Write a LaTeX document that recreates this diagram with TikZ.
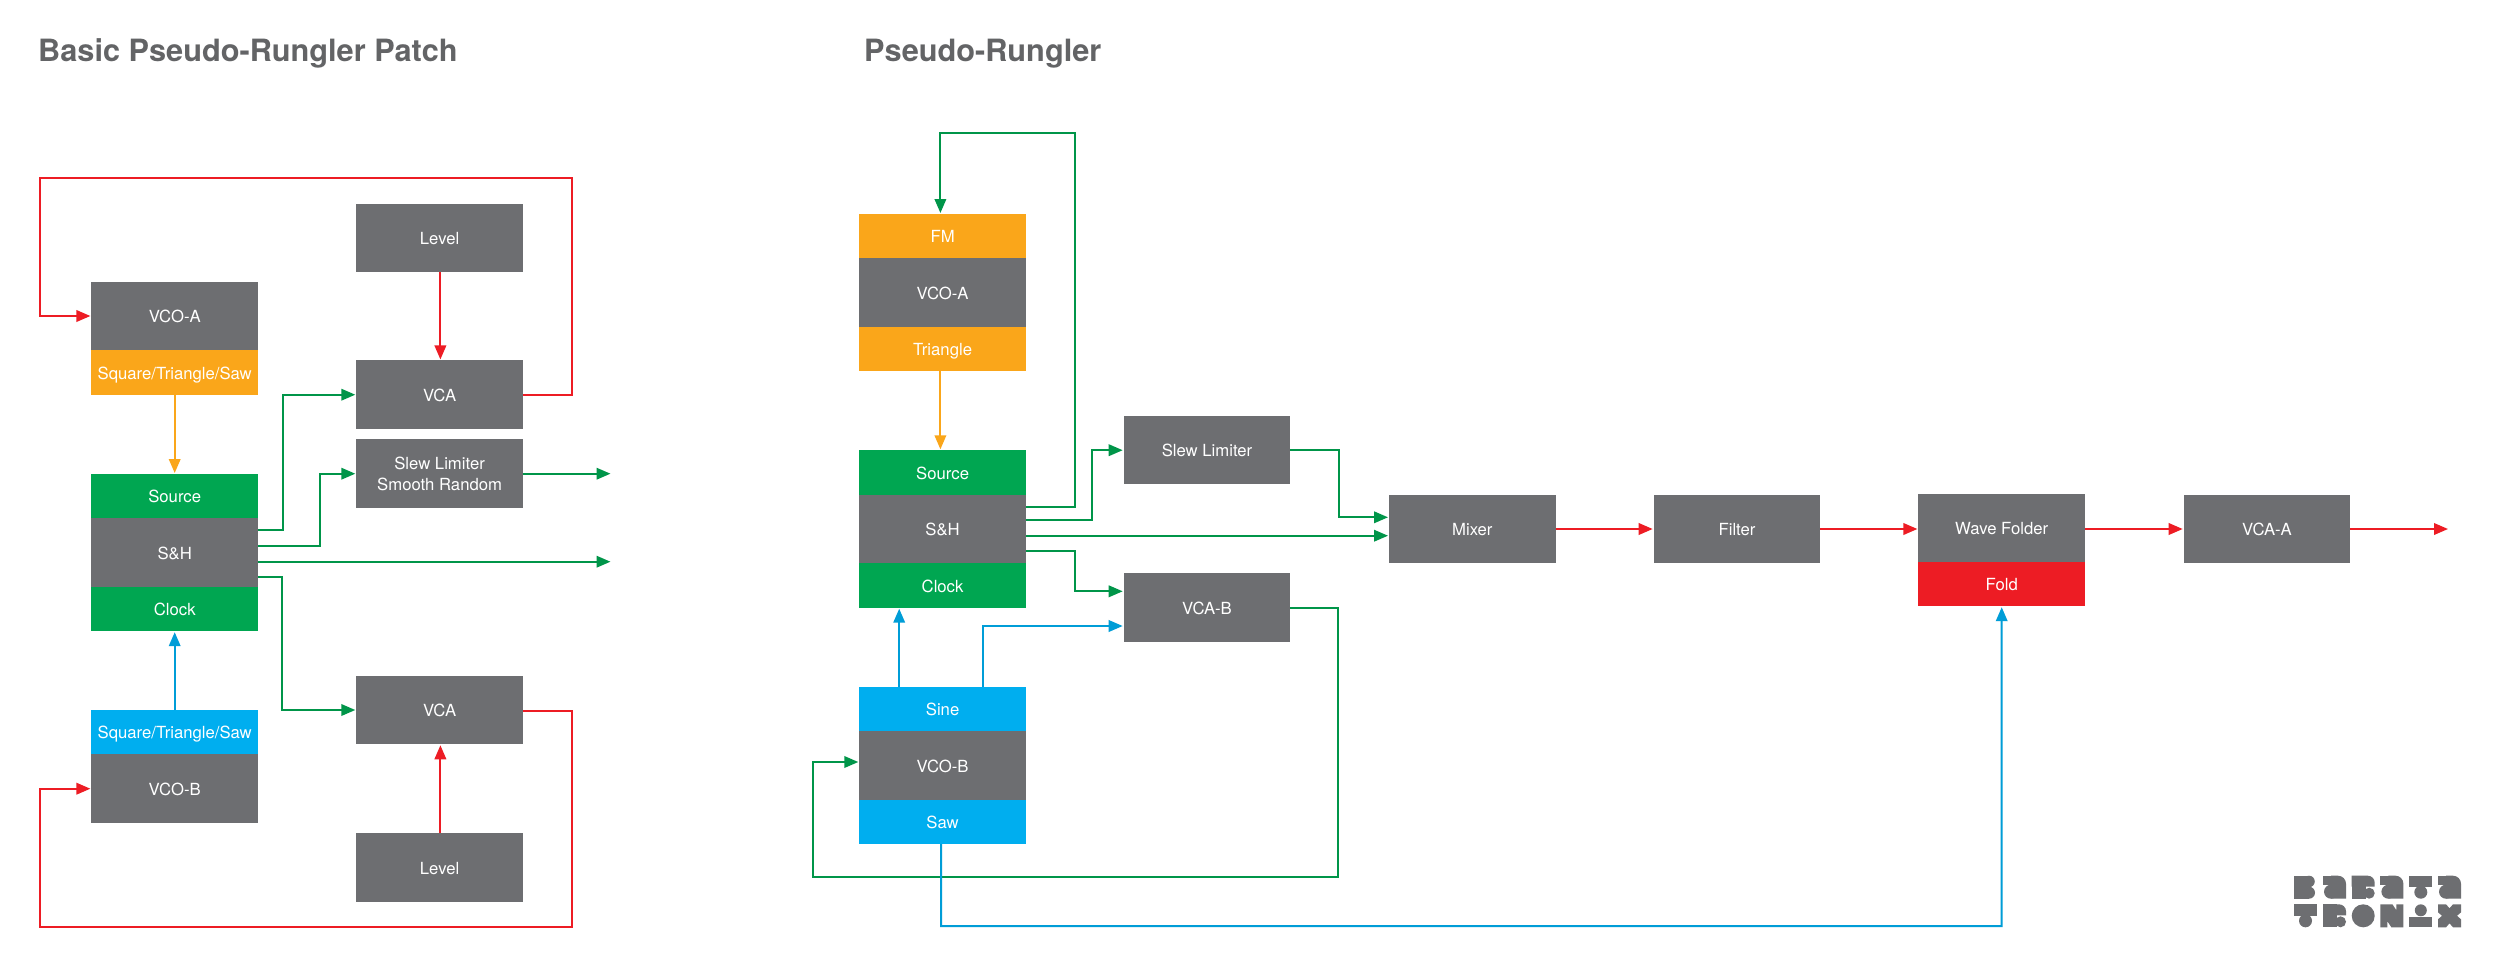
\documentclass[tikz,border=0pt]{standalone}
\usepackage{fontspec}
\setmainfont{TeX Gyre Heros}
\usetikzlibrary{arrows.meta}
\definecolor{cgray}{HTML}{6D6E71}
\definecolor{ctitle}{HTML}{636466}
\definecolor{corange}{HTML}{FAA61A}
\definecolor{cgreen}{HTML}{00A651}
\definecolor{cblue}{HTML}{00AEEF}
\definecolor{cred}{HTML}{ED1C24}
\tikzset{
  block/.style={rectangle,inner sep=0pt,outer sep=0pt,draw=none,minimum width=166.6pt,text=white,
    align=center,font=\fontsize{16.7}{21}\selectfont,text height=16pt,text depth=2.6pt},
  gbox/.style={block,fill=cgray,minimum height=68.5pt},
  tab/.style={block,minimum height=44.4pt},
  orangetab/.style={tab,fill=corange},
  greentab/.style={tab,fill=cgreen},
  bluetab/.style={tab,fill=cblue},
  redtab/.style={tab,fill=cred},
  wire/.style={line width=2pt,-{Triangle[length=14pt,width=11.5pt]},shorten >=1pt},
  lnred/.style={draw=cred},
  lngreen/.style={draw=cgreen!90!black},
  lnblue/.style={draw=cblue!90!black},
  lnorange/.style={draw=corange},
  heading/.style={anchor=base west,inner sep=0pt,text=ctitle,font=\bfseries\fontsize{30.7}{36}\selectfont},
}
\newcommand{\logoB}[2]{\begin{scope}[shift={(#1,#2)}]\fill[cgray] (0,0) rectangle (15,23);\fill[cgray] (15,5.75) circle[radius=5.75];\fill[cgray] (15,17) circle[radius=6];\end{scope}}
\newcommand{\logoA}[2]{\begin{scope}[shift={(#1,#2)}]\fill[cgray] (0,0) rectangle (9,9.5);\fill[cgray] (8,16) circle[radius=7];\fill[cgray] (8,0) [rounded corners=8pt] -- (23,0) [sharp corners] -- (23,23) -- (8,23) -- cycle;\end{scope}}
\newcommand{\logoR}[2]{\begin{scope}[shift={(#1,#2)}]\fill[cgray] (0,0) rectangle (14,23);\fill[cgray] (17.5,17.5) circle[radius=5.5];\fill[cgray] (0,0) [rounded corners=7pt] -- (23,0) [sharp corners] -- (23,11) -- (0,11) -- cycle;\end{scope}}
\newcommand{\logoT}[2]{\begin{scope}[shift={(#1,#2)}]\fill[cgray] (0,0) rectangle (23,11.5);\fill[cgray] (11.5,16.5) circle[radius=6.5];\end{scope}}
\newcommand{\logoO}[2]{\fill[cgray] (#1+11.5,#2+11.5) circle[radius=11.5];}
\newcommand{\logoN}[2]{\begin{scope}[shift={(#1,#2)}]\fill[cgray] (0,0) -- (12,0) -- (16,6) -- (16,0) -- (23,0) -- (23,23) -- (11,23) -- (7,17) -- (7,23) -- (0,23) -- cycle;\end{scope}}
\newcommand{\logoI}[2]{\begin{scope}[shift={(#1,#2)}]\fill[cgray] (11.5,6) circle[radius=6];\fill[cgray] (0,12.5) rectangle (23,23);\end{scope}}
\newcommand{\logoX}[2]{\begin{scope}[shift={(#1,#2)}]\fill[cgray] (0,0) -- (8,0) -- (11.5,4) -- (15,0) -- (23,0) -- (23,8) -- (19,11.5) -- (23,15) -- (23,23) -- (15,23) -- (11.5,19) -- (8,23) -- (0,23) -- (0,15) -- (4,11.5) -- (0,8) -- cycle;\end{scope}}
\begin{document}
\begin{tikzpicture}[x=1pt,y=-1pt]
\useasboundingbox (0,0) rectangle (2500,967);
\fill[white] (0,0) rectangle (2500,967);
% headings
\node[heading] (t1) at (38,61) {Basic Pseudo-Rungler Patch};
\node[heading] (t2) at (864,61) {Pseudo-Rungler};
% left patch
\node[gbox] (avco) at (174.7,316) {VCO-A};
\node[orangetab] (asq) at (174.7,372.3) {Square/Triangle/Saw};
\node[greentab] (asrc) at (174.7,496.2) {Source};
\node[gbox] (ash) at (174.7,552.5) {S\&H};
\node[greentab] (aclk) at (174.7,609) {Clock};
\node[bluetab] (bsq) at (174.7,732.2) {Square/Triangle/Saw};
\node[gbox] (bvco) at (174.7,788.7) {VCO-B};
\node[gbox] (alev) at (439.6,238) {Level};
\node[gbox] (avca) at (439.6,394.7) {VCA};
\node[gbox,text height=,text depth=] (aslew) at (439.6,473.7) {Slew Limiter\\Smooth Random};
\node[gbox] (bvca) at (439.6,710) {VCA};
\node[gbox] (blev) at (439.6,867.7) {Level};
\coordinate (aout1) at (611.5,473.7);
\coordinate (aout2) at (611.5,561.7);
% left connectors
\draw[wire,lnred] (alev.south -| 440.4,0) -- (avca.north -| 440.4,0);
\draw[wire,lnred] (blev.north -| 440.4,0) -- (bvca.south -| 440.4,0);
\draw[wire,lnred] (avca.east) -| (572.2,178) -| (40,316) -- (avco.west);
\draw[wire,lnred] (bvca.east |- 0,711) -| (572.2,927) -| (40,788.7) -- (bvco.west);
\draw[wire,lnorange] (asq.south) -- (asrc.north);
\draw[wire,lnblue] (bsq.north) -- (aclk.south);
\draw[wire,lngreen] (ash.east |- 0,530.3) -| (282.9,394.7) -- (avca.west);
\draw[wire,lngreen] (ash.east |- 0,546.3) -| (320.4,473.7) -- (aslew.west);
\draw[wire,lngreen] (ash.east |- 0,561.7) -- (aout2);
\draw[wire,lngreen] (ash.east |- 0,576.7) -| (282,710) -- (bvca.west);
\draw[wire,lngreen] (aslew.east) -- (aout1);
% right patch
\node[orangetab] (fm) at (942.6,236.2) {FM};
\node[gbox] (cvco) at (942.6,292.7) {VCO-A};
\node[orangetab] (tri) at (942.6,349.2) {Triangle};
\node[greentab] (csrc) at (942.6,472.5) {Source};
\node[gbox] (csh) at (942.6,529) {S\&H};
\node[greentab] (cclk) at (942.6,585.5) {Clock};
\node[bluetab] (sine) at (942.6,708.7) {Sine};
\node[gbox] (dvco) at (942.6,765.4) {VCO-B};
\node[bluetab] (saw) at (942.6,821.9) {Saw};
\node[gbox] (cslew) at (1207,450.2) {Slew Limiter};
\node[gbox] (dvca) at (1207,607.7) {VCA-B};
\node[gbox] (mix) at (1472.3,529) {Mixer};
\node[gbox] (filt) at (1737,529) {Filter};
\node[gbox] (wf) at (2001.7,528) {Wave Folder};
\node[redtab] (fold) at (2001.7,584) {Fold};
\node[gbox] (vcaa) at (2267,529) {VCA-A};
\coordinate (cout) at (2449,529);
% right connectors
\draw[wire,lngreen] (csh.east |- 0,506.7) -| (1074.7,132.7) -| (fm.north -| 940.4,0);
\draw[wire,lngreen] (csh.east |- 0,519.7) -| (1092.2,450.2) -- (cslew.west);
\draw[wire,lngreen] (csh.east |- 0,535.7) -- (mix.west |- 0,535.7);
\draw[wire,lngreen] (csh.east |- 0,551.3) -| (1074.7,591.3) -- (dvca.west |- 0,591.3);
\draw[wire,lngreen] (cslew.east) -| (1339.2,517.3) -- (mix.west |- 0,517.3);
\draw[wire,lngreen] (dvca.east) -| (1338.4,877.3) -| (812.7,762) -- (dvco.west |- 0,762);
\draw[wire,lnorange] (tri.south -| 940.4,0) -- (csrc.north -| 940.4,0);
\draw[wire,lnblue] (sine.north -| 899.2,0) -- (cclk.south -| 899.2,0);
\draw[wire,lnblue] (sine.north -| 982.9,0) |- (dvca.west |- 0,626);
\draw[wire,lnblue] (saw.south -| 941.2,0) |- (2001.5,926) -- (fold.south);
\draw[wire,lnred] (mix.east) -- (filt.west);
\draw[wire,lnred] (filt.east) -- (wf.west |- filt.east);
\draw[wire,lnred] (wf.east |- vcaa.west) -- (vcaa.west);
\draw[wire,lnred] (vcaa.east) -- (cout);
% logo
\logoB{2294}{875.7}\logoA{2323}{875.7}\logoR{2351.7}{875.7}\logoA{2380.4}{875.7}\logoT{2409.3}{875.7}\logoA{2438}{875.7}
\logoT{2294}{904.3}\logoR{2323}{904.3}\logoO{2351.7}{904.3}\logoN{2380.4}{904.3}\logoI{2409.3}{904.3}\logoX{2438}{904.3}
\end{tikzpicture}
\end{document}
